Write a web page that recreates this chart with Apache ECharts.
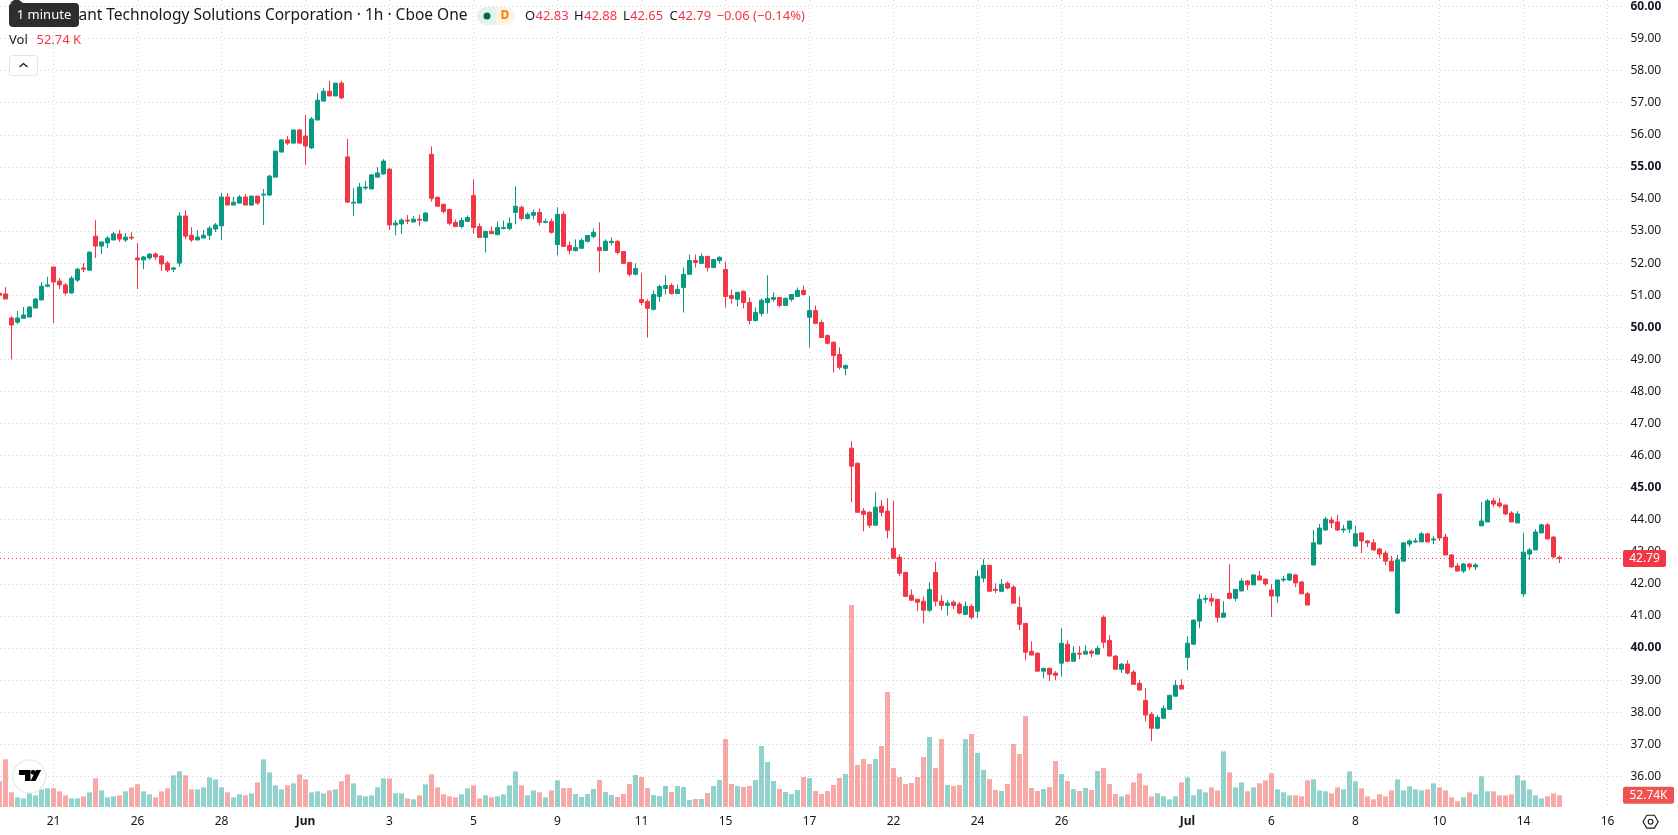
<!DOCTYPE html>
<html>
<head>
<meta charset="utf-8">
<style>
html,body{margin:0;padding:0;background:#fff;overflow:hidden}
#chart{width:1678px;height:835px}
</style>
<script src="https://cdn.jsdelivr.net/npm/echarts@6/dist/echarts.min.js"></script>
</head>
<body>
<div id="chart"></div>
<script>
// Hourly bars, oldest first.
const opens = [
51.06,51.04,50.29,50.16,50.28,50.32,50.60,50.85,51.28,51.88,
51.44,51.32,51.07,51.47,51.85,51.78,52.84,52.53,52.63,52.72,
52.91,52.72,52.81,52.16,52.10,52.16,52.28,52.22,52.00,51.81,
52.00,53.47,52.87,52.72,52.78,52.87,53.06,53.16,54.06,53.81,
53.87,54.06,53.81,54.09,54.12,54.12,54.68,55.46,55.84,55.74,
56.15,55.96,55.59,56.46,57.05,57.36,57.21,57.61,55.31,53.87,
53.87,54.34,54.31,54.68,54.78,54.93,53.19,53.22,53.34,53.28,
53.37,53.31,55.39,54.05,53.83,53.67,53.27,53.14,53.30,54.11,
53.14,52.80,52.99,52.89,53.08,53.08,53.58,53.74,53.39,53.49,
53.58,53.27,53.30,52.58,53.52,52.55,52.39,52.46,52.68,52.83,
52.49,52.39,52.64,52.68,52.36,52.02,51.65,50.87,50.80,50.56,
50.96,51.21,51.30,51.05,51.24,51.65,52.08,51.99,52.21,51.86,
52.08,51.80,50.99,50.87,51.12,50.77,50.21,50.43,50.77,50.87,
50.93,50.68,50.87,50.96,51.15,50.31,50.52,50.15,49.74,49.53,
49.15,48.72,46.23,45.76,44.27,44.23,43.83,44.42,44.27,43.11,
42.83,42.36,41.65,41.52,41.46,41.18,42.36,41.46,41.33,41.43,
41.37,41.05,41.30,41.15,42.18,42.58,41.83,41.77,42.02,41.90,
41.27,40.77,39.90,39.84,39.28,39.37,39.22,39.53,40.12,39.59,
39.84,39.81,39.90,39.81,40.96,40.24,39.75,39.34,39.50,39.25,
38.90,38.37,37.94,37.50,37.81,38.09,38.50,38.84,39.71,40.12,
40.84,41.52,41.55,41.52,40.96,41.71,41.55,41.78,42.09,41.97,
42.25,42.15,41.81,41.62,42.12,42.12,42.28,42.06,41.69,42.59,
43.24,43.68,43.99,43.93,43.68,43.71,43.18,43.59,43.34,43.28,
43.09,42.96,42.71,41.09,42.71,43.24,43.31,43.31,43.56,43.37,
44.80,43.46,42.90,42.56,42.40,42.62,42.53,43.81,43.93,44.59,
44.52,44.46,44.21,43.90,41.69,42.93,43.06,43.59,43.84,43.46,
42.83];
const highs = [
51.10,51.25,50.35,50.51,50.63,50.66,50.91,51.41,51.57,51.88,
51.53,51.38,51.60,51.85,52.00,52.38,53.34,52.66,52.84,52.97,
53.03,52.94,52.97,52.63,52.22,52.31,52.34,52.25,52.06,51.88,
53.59,53.65,53.12,53.03,53.03,53.16,53.25,54.18,54.18,54.06,
54.12,54.15,54.09,54.09,54.31,54.75,55.49,55.87,55.96,56.15,
56.18,56.62,56.55,57.30,57.46,57.68,57.61,57.68,55.87,54.34,
54.50,54.56,54.78,54.99,55.24,54.96,53.34,53.40,53.50,53.47,
53.50,53.59,55.64,54.08,53.86,53.70,53.36,53.42,53.49,54.61,
53.24,52.99,53.14,53.30,53.33,53.42,54.39,53.80,53.58,53.67,
53.70,53.39,53.39,53.74,53.61,52.68,52.74,52.77,52.86,53.08,
53.27,52.74,52.80,52.71,52.36,52.02,51.99,51.68,50.87,51.15,
51.33,51.62,51.37,51.33,51.86,52.27,52.27,52.30,52.21,52.11,
52.21,52.05,51.18,51.09,51.15,50.93,50.62,50.90,51.62,51.09,
50.93,50.93,51.02,51.24,51.30,50.96,50.68,50.24,49.78,49.56,
49.37,48.84,46.45,45.79,44.36,44.27,44.86,44.61,44.67,44.58,
42.92,42.36,41.83,41.52,41.61,42.05,42.68,41.65,41.49,41.49,
41.43,41.46,41.37,42.43,42.77,42.58,42.02,42.15,42.08,41.96,
41.61,40.77,40.21,39.87,39.37,39.37,39.28,40.62,40.24,40.06,
40.06,40.09,39.96,40.06,41.02,40.40,39.78,39.53,39.62,39.31,
39.00,38.75,38.00,37.91,38.22,38.53,39.00,39.03,40.37,40.90,
41.68,41.65,41.71,41.52,41.46,42.61,41.83,42.18,42.12,42.28,
42.40,42.15,42.00,42.12,42.25,42.31,42.31,42.09,41.75,43.68,
43.87,44.09,44.09,44.15,43.84,43.96,43.81,43.59,43.37,43.40,
43.12,43.03,42.87,42.90,43.31,43.40,43.43,43.62,43.59,43.49,
44.80,43.56,42.93,42.65,42.65,42.65,42.65,44.55,44.65,44.68,
44.68,44.46,44.27,44.27,43.59,43.12,43.71,43.87,43.90,43.49,
42.88];
const lows = [
50.97,50.88,49.00,50.10,50.26,50.32,50.60,50.85,51.25,50.13,
51.19,51.00,51.04,51.41,51.72,51.78,52.16,52.28,52.47,52.72,
52.66,52.66,52.72,51.19,51.81,52.10,52.10,51.75,51.72,51.72,
51.88,52.75,52.66,52.72,52.78,52.72,52.97,52.72,53.81,53.81,
53.87,53.81,53.78,53.81,53.19,54.09,54.68,55.46,55.68,55.74,
55.71,55.06,55.56,56.46,57.05,57.21,57.21,57.11,53.90,53.47,
53.87,54.28,54.31,54.68,54.75,53.03,52.87,52.91,53.22,53.28,
53.16,53.31,53.92,53.77,53.55,53.17,53.14,53.08,53.30,52.92,
52.80,52.33,52.92,52.86,53.05,53.02,53.21,53.33,53.36,53.36,
53.17,53.24,52.92,52.24,52.52,52.27,52.36,52.46,52.64,52.77,
51.71,52.39,52.55,52.27,51.99,51.58,51.62,50.68,49.68,50.52,
50.80,51.02,51.02,51.05,50.46,51.65,51.86,51.99,51.74,51.86,
51.99,50.62,50.74,50.65,50.59,50.09,50.18,50.34,50.43,50.80,
50.62,50.68,50.80,50.96,50.99,49.37,50.12,49.68,49.46,48.59,
48.68,48.50,44.55,44.23,43.64,43.74,43.83,44.11,43.42,42.77,
42.24,41.61,41.49,41.15,40.77,41.12,41.30,41.18,41.02,41.21,
41.05,41.05,40.90,40.93,42.05,41.77,41.71,41.74,41.83,41.40,
40.56,39.62,39.78,39.28,39.06,38.97,39.00,39.12,39.56,39.59,
39.65,39.81,39.71,39.81,39.99,39.75,39.34,39.22,39.18,38.87,
38.69,37.72,37.10,37.47,37.81,38.09,38.50,38.72,39.31,40.09,
40.62,41.40,41.30,40.80,40.96,41.52,41.46,41.78,41.81,41.97,
42.12,41.94,40.97,41.41,42.06,42.09,41.90,41.69,41.34,42.59,
43.24,43.65,43.74,43.65,43.59,43.59,43.15,42.96,43.15,43.03,
42.81,42.59,42.40,41.06,42.68,43.15,43.28,43.31,43.31,43.24,
43.34,42.90,42.50,42.40,42.34,42.43,42.43,43.81,43.93,44.40,
44.37,44.15,43.93,43.90,41.59,42.75,43.06,43.59,43.40,42.81,
42.65];
const closes = [
51.00,50.88,50.07,50.29,50.38,50.63,50.88,51.28,51.32,51.41,
51.32,51.07,51.53,51.81,51.81,52.34,52.53,52.66,52.78,52.91,
52.75,52.81,52.78,52.10,52.19,52.28,52.19,51.97,51.78,51.85,
53.47,52.84,52.72,52.81,52.87,53.09,53.19,54.06,53.81,53.90,
54.06,53.81,54.09,53.87,54.15,54.71,55.49,55.84,55.74,56.15,
55.74,55.65,56.49,57.08,57.36,57.21,57.61,57.15,53.90,53.90,
54.37,54.37,54.75,54.81,55.18,53.19,53.25,53.34,53.31,53.37,
53.34,53.56,54.02,53.77,53.61,53.24,53.14,53.33,53.42,53.11,
52.80,52.99,52.92,53.11,53.11,53.24,53.77,53.39,53.52,53.58,
53.27,53.30,52.96,53.52,52.52,52.39,52.49,52.71,52.86,52.96,
52.39,52.68,52.68,52.33,51.99,51.65,51.83,50.77,50.59,51.02,
51.27,51.30,51.05,51.18,51.65,52.08,52.02,52.21,51.86,52.11,
52.18,50.96,50.90,51.09,50.77,50.21,50.46,50.84,50.90,50.93,
50.68,50.90,51.02,51.15,51.02,50.52,50.12,49.68,49.50,49.12,
48.75,48.81,45.67,44.23,44.17,43.83,44.39,44.23,43.67,42.80,
42.33,41.61,41.49,41.43,41.18,41.83,41.46,41.33,41.40,41.33,
41.09,41.30,40.96,42.24,42.58,41.77,41.80,41.99,41.87,41.40,
40.74,39.87,39.78,39.28,39.37,39.18,39.15,40.15,39.59,39.84,
39.81,39.90,39.84,39.99,40.18,39.75,39.34,39.50,39.22,38.87,
38.69,37.91,37.50,37.84,38.12,38.53,38.84,38.72,40.15,40.87,
41.52,41.55,41.46,40.96,41.09,41.55,41.83,42.09,41.97,42.28,
42.12,42.00,41.62,42.12,42.15,42.31,42.03,41.69,41.34,43.28,
43.74,44.02,43.90,43.68,43.71,43.96,43.56,43.34,43.28,43.06,
42.93,42.71,42.40,42.75,43.28,43.34,43.34,43.56,43.31,43.40,
43.43,42.90,42.53,42.40,42.62,42.53,42.59,43.96,44.59,44.49,
44.43,44.18,43.93,44.18,42.99,43.06,43.62,43.84,43.40,42.84,
42.79];
// Volume per bar, in thousands of shares.
const volumes = [
115.5,214.5,66,43.5,39,66,52.5,79.5,84,84,
70.5,52.5,39,39,48,66,129,75,43.5,48,
52.5,70.5,88.5,102,70.5,57,43.5,70.5,84,142.5,
160.5,142.5,79.5,79.5,88.5,133.5,124.5,88.5,66,43.5,
57,52.5,61.5,111,214.5,156,97.5,79.5,97.5,106.5,
147,124.5,66,70.5,61.5,75,79.5,115.5,147,106.5,
52.5,48,52.5,88.5,129,129,61.5,61.5,39,34.5,
52.5,102,147,88.5,57,48,43.5,57,84,97.5,
39,52.5,43.5,48,57,97.5,160.5,97.5,52.5,75,
66,43.5,75,120,85.5,85.5,58.5,45,58.5,81,
121.5,67.5,54,45,58.5,103.5,144,135,85.5,54,
49.5,94.5,67.5,94.5,90,31.5,36,36,63,94.5,
121.5,306,103.5,94.5,90,94.5,121.5,274.5,202.5,117,
81,67.5,58.5,76.5,135,130.5,72,58.5,72,99,
130.5,148.5,909,189,216,193.5,216,274.5,517.5,175.5,
135,103.5,108,135,225,315,175.5,306,99,94.5,
99,306,328.5,243,166.5,126,76.5,72,103.5,283.5,
238.5,409.5,85.5,72,81,90,207,148.5,117,81,
72,85.5,76.5,162,175.5,103.5,58.5,48,57,111,
151.5,97.5,48,61.5,48,34.5,48,111,133.5,52.5,
79.5,66,88.5,75,250.5,156,88.5,111,70.5,88.5,
106.5,120,151.5,79.5,66,52.5,52.5,48,120,124.5,
75,70.5,61.5,88.5,79.5,160.5,115.5,84,48,34.5,
57,48,75,124.5,75,93,79.5,75,79.5,106.5,
88.5,75,43.5,25.5,43.5,66,57,138,70.5,70.5,
52.5,52.5,57,142.5,120,79.5,52.5,39,48,61.5,
52.74];
// Time axis: bar slot of each label, and its text.
const tickSlots = [9,23,37,51,65,79,93,107,121,135,149,163,177,198,212,226,240,254,268];
const tickLabels = ['21','26','28','Jun','3','5','9','11','15','17','22','24','26','Jul','6','8','10','14','16'];
const monthLabels = ['Jun','Jul'];
const slotCount = 271;
const priceMin = 36, priceMax = 60, priceStep = 1;
const volumeMax = 3631.5;
const titleText = 'Cognizant Technology Solutions Corporation · 1h · Cboe One';
const lastChange = '−0.06 (−0.14%)';
const lastVolumeText = '52.74 K';

const UP = '#089981', DOWN = '#F23645', INK = '#131722';
const FONT = '"Noto Sans", sans-serif';
const DOTS = {color: '#d3d4d8', width: 1, type: [1, 3]};
// The price grid starts half a pixel off the canvas, so its dots need a half-pixel phase.
const PRICE_DOTS = {...DOTS, dashOffset: 0.5};

const slots = Array.from({length: slotCount}, (_, i) => String(i));
const isUp = i => closes[i] >= opens[i];
const candleData = opens.map((o, i) => [o, closes[i], lows[i], highs[i]]);
const volumeData = volumes.map((v, i) => ({
  value: v,
  itemStyle: {color: isUp(i) ? 'rgba(38,166,154,0.5)' : 'rgba(239,83,80,0.5)'}
}));

const chart = echarts.init(document.getElementById('chart'), null, {renderer: 'canvas'});

chart.setOption({
  animation: false,
  backgroundColor: '#ffffff',
  grid: [
    {left: -3.5, top: 6.46, width: 1626, height: 769.92, outerBoundsMode: 'none'},
    {left: -0.5, top: 0, width: 1620, height: 807, outerBoundsMode: 'none'}
  ],
  xAxis: [
    {type: 'category', gridIndex: 0, data: slots, show: false, boundaryGap: true},
    {
      type: 'category', gridIndex: 1, data: slots, boundaryGap: false,
      axisLine: {show: false}, axisTick: {show: false},
      splitLine: {show: true, lineStyle: DOTS, interval: i => tickSlots.includes(i)},
      axisLabel: {
        show: true, margin: 9, hideOverlap: false,
        interval: i => tickSlots.includes(i),
        formatter: v => {
          const t = tickLabels[tickSlots.indexOf(+v)];
          return monthLabels.includes(t) ? '{b|' + t + '}' : '{n|' + t + '}';
        },
        rich: {
          n: {fontFamily: FONT, fontSize: 12, color: INK},
          b: {fontFamily: FONT, fontSize: 12, color: INK, fontWeight: 'bold'}
        }
      }
    }
  ],
  yAxis: [
    {
      type: 'value', gridIndex: 0, position: 'right', min: priceMin, max: priceMax, interval: priceStep,
      axisLine: {show: false}, axisTick: {show: false},
      splitLine: {show: true, lineStyle: PRICE_DOTS},
      axisLabel: {
        margin: 8,
        formatter: v => (v % 5 === 0 ? '{b|' + v.toFixed(2) + '}' : '{n|' + v.toFixed(2) + '}'),
        rich: {
          n: {fontFamily: FONT, fontSize: 12, color: INK},
          b: {fontFamily: FONT, fontSize: 12, color: INK, fontWeight: 'bold'}
        }
      }
    },
    {type: 'value', gridIndex: 1, min: 0, max: volumeMax, show: false, splitLine: {show: false}}
  ],
  series: [
    {
      type: 'bar', name: 'Vol', xAxisIndex: 1, yAxisIndex: 1, barWidth: 5, data: volumeData, z: 2, clip: false
    },
    {
      type: 'candlestick', name: 'Price', xAxisIndex: 0, yAxisIndex: 0, barWidth: 4, data: candleData, z: 3, clip: false,
      itemStyle: {color: UP, color0: DOWN, borderColor: UP, borderColor0: DOWN, borderWidth: 1},
      markLine: {
        silent: true, symbol: 'none', animation: false, z: 1,
        label: {show: false},
        lineStyle: {color: DOWN, width: 1, type: [1, 3], dashOffset: 0.5},
        data: [{yAxis: closes[closes.length - 1]}]
      }
    }
  ]
});

// Header, price tags and corner controls sit on top of the plot.
const txt = (text, x, y, fill, font, align) => ({
  type: 'text', x, y, z: 20,
  style: {text, fill, font, textAlign: align || 'left', textVerticalAlign: 'middle'}
});
const lastClose = closes[closes.length - 1];
const lastVolume = volumes[volumes.length - 1];
const closeY = chart.convertToPixel({yAxisIndex: 0}, lastClose);
const volumeY = chart.convertToPixel({yAxisIndex: 1}, lastVolume);
const f12 = '12px ' + FONT, f13 = '13px ' + FONT;

chart.setOption({
  graphic: {elements: [
    // Symbol title, OHLC row and volume legend
    txt(titleText, 467.5, 16, INK, '15.5px ' + FONT, 'right'),
    {type: 'rect', z: 20, shape: {x: 477, y: 7, width: 19, height: 18, r: [9, 0, 0, 9]}, style: {fill: '#dff3ef'}},
    {type: 'rect', z: 20, shape: {x: 496, y: 7, width: 19, height: 18, r: [0, 9, 9, 0]}, style: {fill: '#fdf3e2'}},
    {type: 'circle', z: 21, shape: {cx: 487, cy: 16, r: 3.5}, style: {fill: '#056656'}},
    txt('D', 505, 16, '#f57c00', 'bold 12px ' + FONT, 'center'),
    txt('O', 525, 16, INK, f13),
    txt(opens[opens.length - 1].toFixed(2), 535.5, 16, DOWN, f13),
    txt('H', 574, 16, INK, f13),
    txt(highs[highs.length - 1].toFixed(2), 584, 16, DOWN, f13),
    txt('L', 623, 16, INK, f13),
    txt(lows[lows.length - 1].toFixed(2), 630, 16, DOWN, f13),
    txt('C', 669.5, 16, INK, f13),
    txt(lastClose.toFixed(2), 678, 16, DOWN, f13),
    txt(lastChange, 716.5, 16, DOWN, f13),
    txt('Vol', 9, 40.5, INK, f13),
    txt(lastVolumeText, 36.5, 40.5, DOWN, f13),
    // Hint bubble over the start of the title
    {type: 'polygon', z: 22, shape: {points: [[10, 3], [14, 0], [19, 0], [23, 3]]}, style: {fill: '#2e2e2e'}},
    {type: 'rect', z: 22, shape: {x: 9, y: 3, width: 70, height: 24, r: 4}, style: {fill: '#2e2e2e'}},
    {...txt('1 minute', 44, 15.5, '#ffffff', f13, 'center'), z: 23},
    // Collapse button
    {type: 'rect', z: 20, shape: {x: 9.5, y: 55.5, width: 28, height: 20, r: 3}, style: {fill: '#ffffff', stroke: '#e0e3eb', lineWidth: 1}},
    {type: 'polyline', z: 21, shape: {points: [[19.5, 67], [23.5, 63.5], [27.5, 67]]}, style: {stroke: INK, lineWidth: 1.3, fill: null}},
    // Logo badge
    {type: 'circle', z: 20, shape: {cx: 29.3, cy: 776.5, r: 16.5}, style: {fill: '#ffffff', stroke: '#ebebeb', lineWidth: 1.5}},
    {type: 'polygon', z: 21, shape: {points: [[19, 770], [30.5, 770], [30.5, 781], [25, 781], [25, 775], [19, 775]]}, style: {fill: '#000000'}},
    {type: 'circle', z: 21, shape: {cx: 33, cy: 772.3, r: 2.4}, style: {fill: '#000000'}},
    {type: 'polygon', z: 21, shape: {points: [[36, 770], [41.2, 770], [35.5, 781], [30.5, 781]]}, style: {fill: '#000000'}},
    // Last-value tags on the price scale
    {type: 'rect', z: 20, shape: {x: 1623, y: closeY - 8.5, width: 43, height: 17, r: 2}, style: {fill: DOWN}},
    txt(lastClose.toFixed(2), 1644.5, closeY, '#ffffff', f12 , 'center'),
    {type: 'rect', z: 20, shape: {x: 1623, y: volumeY - 8.5, width: 51, height: 17, r: 2}, style: {fill: '#ef5350'}},
    txt('52.74K', 1648.5, volumeY, '#ffffff', f12, 'center'),
    // Settings glyph
    {type: 'polygon', z: 20, shape: {points: [[1643, 821.7], [1646.8, 815.3], [1654.4, 815.3], [1658.2, 821.7], [1654.4, 828.1], [1646.8, 828.1]]}, style: {fill: null, stroke: INK, lineWidth: 1.1}},
    {type: 'circle', z: 20, shape: {cx: 1650.6, cy: 821.7, r: 2.4}, style: {fill: null, stroke: INK, lineWidth: 1.1}}
  ]}
});
</script>
</body>
</html>
